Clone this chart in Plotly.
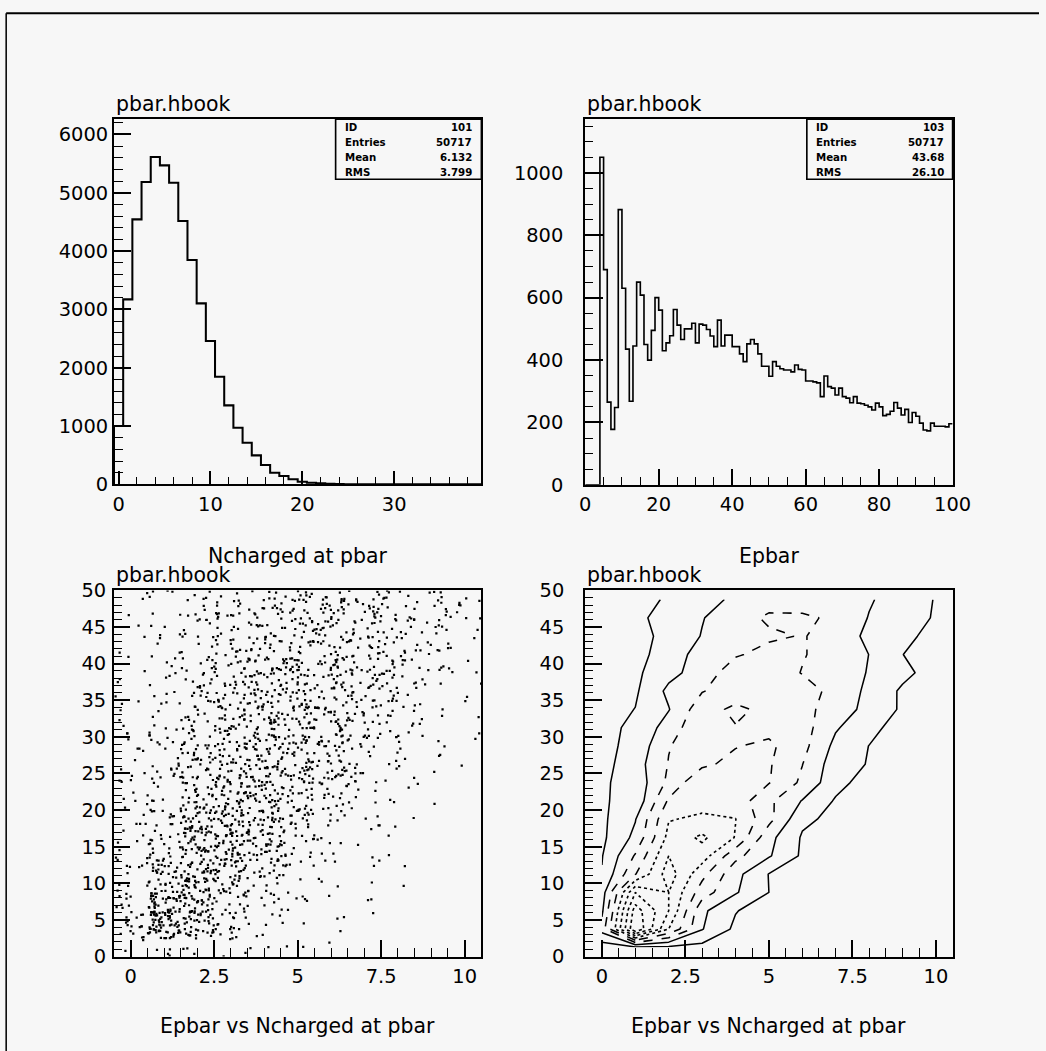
import plotly.graph_objects as go

# ---------------- data ----------------
# ID 101 : Ncharged at pbar, 40 bins of width 1 starting at -0.5
nch_lo, nch_width = -0.5, 1.0
nch_counts = [1000, 3171, 4543, 5183, 5611, 5469, 5171, 4514, 3846, 3103,
              2457, 1846, 1354, 971, 714, 497, 331, 200, 143, 86,
              46, 29, 17, 10, 5, 3, 2, 1, 1, 0,
              0, 0, 0, 0, 0, 0, 0, 0, 0, 0]
nch_stats = [("ID", "101"), ("Entries", "50717"), ("Mean", "6.132"), ("RMS", "3.799")]

# ID 103 : Epbar, 100 bins of width 1 starting at 0
ep_lo, ep_width = 0.0, 1.0
ep_counts = [0, 0, 0, 0, 1050, 690, 265, 178, 248, 882,
             630, 435, 268, 445, 650, 608, 450, 400, 495, 600,
             560, 430, 455, 478, 562, 512, 466, 500, 500, 518,
             455, 515, 512, 498, 477, 443, 528, 445, 480, 480,
             443, 443, 420, 395, 452, 466, 452, 420, 380, 380,
             348, 395, 380, 372, 368, 368, 362, 384, 370, 368,
             333, 333, 330, 327, 283, 349, 315, 310, 288, 310,
             283, 278, 263, 283, 262, 260, 255, 250, 240, 262,
             250, 222, 226, 236, 264, 246, 224, 242, 200, 232,
             220, 198, 176, 173, 198, 188, 188, 188, 186, 196]
ep_stats = [("ID", "103"), ("Entries", "50717"), ("Mean", "43.68"), ("RMS", "26.10")]

# 2-D histogram : Epbar vs Ncharged at pbar (cell centres)
cell_x = [0, 1, 2, 3, 4, 5, 6, 7, 8, 9, 10]
cell_y = [1.25, 3.75, 6.25, 8.75, 11.25, 13.75, 16.25, 18.75, 21.25, 23.75,
          26.25, 28.75, 31.25, 33.75, 36.25, 38.75, 41.25, 43.75, 46.25, 48.75]
cell_z = [
    [0.45, 0.85, 0.8, 0.7, 0.5, 0.3, 0.2, 0.1, 0.05, 0.0, 0.0],
    [2.4, 9.0, 5.0, 2.05, 0.8, 0.4, 0.2, 0.1, 0.05, 0.0, 0.0],
    [1.8, 8.5, 6.0, 2.2, 1.05, 0.5, 0.3, 0.15, 0.1, 0.0, 0.0],
    [1.5, 7.0, 6.0, 3.5, 2.1, 1.0, 0.5, 0.3, 0.15, 0.05, 0.0],
    [1.05, 3.95, 6.5, 4.3, 2.3, 0.97, 0.5, 0.3, 0.15, 0.05, 0.0],
    [0.95, 3.1, 6.0, 5.5, 3.3, 2.1, 0.85, 0.4, 0.2, 0.05, 0.0],
    [0.8, 2.25, 5.3, 6.2, 4.95, 2.3, 0.9, 0.4, 0.2, 0.05, 0.0],
    [0.8, 1.95, 4.95, 5.15, 5.02, 3.32, 1.19, 0.77, 0.3, 0.1, 0.0],
    [0.925, 1.25, 4.15, 4.7, 4.6, 3.2, 1.95, 0.9, 0.4, 0.15, 0.05],
    [0.884, 1.33, 3.23, 4.9, 4.5, 4.05, 2.8, 1.32, 0.58, 0.25, 0.1],
    [0.677, 1.55, 3.05, 3.8, 4.3, 4.1, 3.02, 1.45, 0.94, 0.5, 0.2],
    [0.72, 1.3, 2.95, 3.6, 3.95, 4.2, 3.32, 1.73, 0.985, 0.55, 0.25],
    [0.82, 1.13, 2.47, 3.8, 3.95, 3.7, 3.43, 2.1, 1.3, 0.55, 0.25],
    [0.6, 1.02, 1.95, 3.6, 4.2, 3.75, 3.25, 2.63, 1.63, 0.87, 0.4],
    [0.45, 0.86, 2.23, 2.95, 3.5, 3.6, 3.3, 2.79, 1.74, 0.85, 0.4],
    [0.35, 0.8, 1.7, 2.45, 3.55, 3.4, 2.97, 2.9, 1.9, 1.25, 0.59],
    [0.3, 0.75, 1.35, 2.5, 2.9, 3.3, 3.05, 2.69, 1.99, 1.01, 0.6],
    [0.25, 0.7, 1.25, 2.05, 2.5, 2.85, 3.05, 2.69, 1.74, 1.3, 0.63],
    [0.4, 0.7, 1.5, 1.95, 2.6, 3.15, 3.1, 2.9, 1.95, 1.5, 0.9],
    [0.3, 0.7, 1.1, 1.6, 2.2, 2.6, 2.7, 2.5, 2.1, 1.5, 0.95],
]
cell_w, cell_h = 1.0, 2.5

# contour levels and the HBOOK line style used for each
contour_levels = [1, 2, 3, 4, 5, 6, 7, 8]
contour_dashes = ["solid", "solid", "dash", "dash", "dot", "dot", "dot", "dot"]

# ---------------- page geometry ----------------
# layout positions are given in screen pixels; the page is shown at a
# 0.978 zoom with the browser's 8 px body margin, so convert to CSS pixels
ZOOM = 0.978
MARGIN = 8
W, H = 1058, 1063
FONT = "DejaVu Sans"
BG = "#f7f7f7"


def fx(px):
    return (px / ZOOM - MARGIN) / W


def fy(py):
    return 1 - (py / ZOOM - MARGIN) / H


def sz(v):
    return v / ZOOM


BOX = {  # left, right, top, bottom (screen pixels)
    "1": (116, 484, 116, 481),
    "2": (588, 956, 116, 481.5),
    "3": (116, 484, 587, 953),
    "4": (588, 956, 587, 953),
}

fig = go.Figure()


def step_path(lo, width, counts):
    xs = [lo]
    ys = [0]
    for i, c in enumerate(counts):
        xs.append(lo + i * width)
        ys.append(c)
    xs.append(lo + len(counts) * width)
    ys.append(counts[-1])
    return xs, ys


x1, y1 = step_path(nch_lo, nch_width, nch_counts)
fig.add_trace(go.Scatter(x=x1, y=y1, mode="lines", line=dict(color="black", width=sz(2), shape="hv"),
                         xaxis="x", yaxis="y", showlegend=False, hoverinfo="skip"))

x2, y2 = step_path(ep_lo, ep_width, ep_counts)
fig.add_trace(go.Scatter(x=x2, y=y2, mode="lines", line=dict(color="black", width=sz(1.6), shape="hv"),
                         xaxis="x2", yaxis="y2", showlegend=False, hoverinfo="skip"))


# box scatter: each cell gets dots in proportion to its content, scattered
# inside the cell with a fixed integer hash (same picture on every run)
def cell_jitter(i, j, k, salt):
    h = (i * 374761393 + j * 668265263 + k * 2246822519 + salt * 3266489917) & 0xFFFFFFFF
    h = ((h ^ (h >> 15)) * 2246822519) & 0xFFFFFFFF
    h = ((h ^ (h >> 13)) * 3266489917) & 0xFFFFFFFF
    h ^= h >> 16
    return h / 4294967296.0


DOTS_PER_UNIT = 5.0
sx, sy = [], []
for j, yc in enumerate(cell_y):
    for i, xc in enumerate(cell_x):
        n = int(round(cell_z[j][i] * DOTS_PER_UNIT))
        for k in range(n):
            sx.append(xc - cell_w / 2 + cell_jitter(i, j, k, 1) * cell_w)
            sy.append(yc - cell_h / 2 + cell_jitter(i, j, k, 2) * cell_h)
fig.add_trace(go.Scatter(x=sx, y=sy, mode="markers",
                         marker=dict(color="black", size=sz(2.2), symbol="square", line=dict(width=0)),
                         xaxis="x3", yaxis="y3", showlegend=False, hoverinfo="skip"))

for lev, dash in zip(contour_levels, contour_dashes):
    fig.add_trace(go.Contour(
        x=cell_x, y=cell_y, z=cell_z, autocontour=False,
        contours=dict(start=lev, end=lev, size=1, coloring="lines", showlabels=False),
        colorscale=[[0, "black"], [1, "black"]], showscale=False,
        line=dict(width=sz(1.5 if dash != "dot" else 1.6), dash=dash, smoothing=0),
        xaxis="x4", yaxis="y4", hoverinfo="skip"))

tick_font = dict(family=FONT, size=sz(19), color="black")


def axis_pair(key, xr, yr, xt, xminor, yt, yminor, xlen, ylen, ystand, xlabels=None):
    l, r, t, b = BOX[key]
    sfx = "" if key == "1" else key
    xa = dict(domain=[fx(l), fx(r)], range=xr, anchor="y" + sfx,
              showline=True, linecolor="black", linewidth=sz(2), mirror=True,
              showgrid=False, zeroline=False, ticks="inside", ticklen=sz(xlen[0]), tickwidth=sz(1.5),
              tickcolor="black", tickvals=xt, ticktext=xlabels or [str(v) for v in xt],
              tickfont=tick_font, ticklabelstandoff=1,
              minor=dict(ticks="inside", ticklen=sz(xlen[1]), tickwidth=sz(1.3), tickcolor="black",
                         dtick=xminor, tick0=0, showgrid=False))
    ya = dict(domain=[fy(b), fy(t)], range=yr, anchor="x" + sfx,
              showline=True, linecolor="black", linewidth=sz(2), mirror=True,
              showgrid=False, zeroline=False, ticks="inside", ticklen=sz(ylen[0]), tickwidth=sz(1.5),
              tickcolor="black", tickvals=yt, ticktext=[str(v) for v in yt],
              tickfont=tick_font, ticklabelstandoff=round(sz(ystand)),
              minor=dict(ticks="inside", ticklen=sz(ylen[1]), tickwidth=sz(1.3), tickcolor="black",
                         dtick=yminor, tick0=0, showgrid=False))
    return xa, ya


xa1, ya1 = axis_pair("1", [-0.5, 39.5], [0, 6260], [0, 10, 20, 30], 2,
                     [0, 1000, 2000, 3000, 4000, 5000, 6000], 200, (13, 7), (17, 9), 0)
xa2, ya2 = axis_pair("2", [0, 100], [0, 1172], [0, 20, 40, 60, 80, 100], 5,
                     [0, 200, 400, 600, 800, 1000], 50, (15, 8), (17, 8), 16)
xa3, ya3 = axis_pair("3", [-0.5, 10.5], [0, 50], [0, 2.5, 5, 7.5, 10], 0.5,
                     [0, 5, 10, 15, 20, 25, 30, 35, 40, 45, 50], 1, (16, 8), (16, 8), 2,
                     ["0", "2.5", "5", "7.5", "10"])
xa4, ya4 = axis_pair("4", [-0.5, 10.5], [0, 50], [0, 2.5, 5, 7.5, 10], 0.5,
                     [0, 5, 10, 15, 20, 25, 30, 35, 40, 45, 50], 1, (16, 8), (16, 8), 15,
                     ["0", "2.5", "5", "7.5", "10"])

annotations = []


def text(px, py, s, size=20, xanchor="center", yanchor="middle", bold=False):
    annotations.append(dict(x=fx(px), y=fy(py), xref="paper", yref="paper", text=s,
                            showarrow=False, xanchor=xanchor, yanchor=yanchor,
                            font=dict(family=FONT, size=sz(size), color="black",
                                      weight="bold" if bold else "normal")))


for key in BOX:
    l, r, t, b = BOX[key]
    text(l, t - 1, "pbar.hbook", size=20, xanchor="left", yanchor="bottom")

text(300, 553, "Ncharged at pbar")
text(772, 553, "Epbar")
text(300, 1022, "Epbar vs Ncharged at pbar")
text(772, 1022, "Epbar vs Ncharged at pbar")

shapes = []
# statistics boxes
for key, stats in (("1", nch_stats), ("2", ep_stats)):
    l, r, t, b = BOX[key]
    bl, bb = l + 222, t + 60
    shapes.append(dict(type="rect", xref="paper", yref="paper", x0=fx(bl), x1=fx(r),
                       y0=fy(bb), y1=fy(t), line=dict(color="black", width=sz(1.6))))
    for n, (lab, val) in enumerate(stats):
        yy = t + 8 + n * 15
        text(bl + 7, yy, lab, size=10, xanchor="left", bold=True)
        text(r - 7, yy, val, size=10, xanchor="right", bold=True)

# page frame
shapes.append(dict(type="line", xref="paper", yref="paper", x0=fx(8), x1=1.0, y0=fy(10), y1=fy(10),
                   line=dict(color="black", width=sz(2))))
shapes.append(dict(type="line", xref="paper", yref="paper", x0=fx(8), x1=fx(8), y0=fy(10), y1=0,
                   line=dict(color="black", width=sz(1.5))))

fig.update_layout(
    width=W, height=H, margin=dict(l=0, r=0, t=0, b=0),
    paper_bgcolor=BG, plot_bgcolor=BG, showlegend=False,
    xaxis=xa1, yaxis=ya1, xaxis2=xa2, yaxis2=ya2,
    xaxis3=xa3, yaxis3=ya3, xaxis4=xa4, yaxis4=ya4,
    annotations=annotations, shapes=shapes,
)

fig.write_html("out.html")
